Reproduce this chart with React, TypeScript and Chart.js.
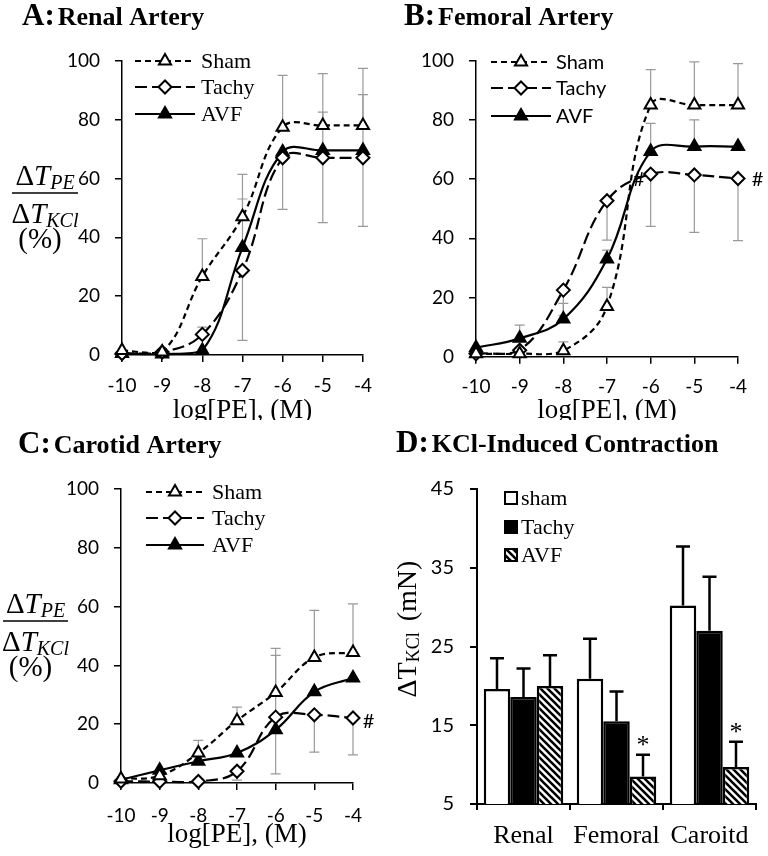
import React, { useEffect, useRef } from 'react';
import { Chart, registerables } from 'chart.js';
Chart.register(...registerables);

// ---------- data ----------
const doses = [-10, -9, -8, -7, -6, -5, -4];

// A: Renal artery
const renalSham = [1.5, 1, 26.7, 47, 77.4, 78, 78];
const renalShamPlus = [0, 0, 12.8, 14.4, 17.6, 17.6, 19.4];
const renalShamMinus = [0, 0, 0, 0, 0, 0, 0];
const renalTachy = [0.5, 1, 7, 28.7, 67, 67, 67];
const renalTachyPlus = [0, 0, 2.5, 0, 0, 0, 0];
const renalTachyMinus = [0, 0, 0, 23.7, 17.5, 22, 23.3];
const renalAvf = [0.5, 0.3, 1.5, 36.5, 69, 69.5, 69.5];
const renalAvfPlus = [0, 0, 0, 16.5, 0, 13, 19];
const renalAvfMinus = [0, 0, 0, 0, 0, 0, 0];

// B: Femoral artery
const femoralSham = [1, 1, 2, 17, 85, 85, 85];
const femoralShamPlus = [0, 0, 3, 6.4, 12, 14.6, 14];
const femoralShamMinus = [0, 0, 0, 0, 0, 0, 0];
const femoralTachy = [1, 2.2, 22.5, 52.7, 61.7, 61.4, 60.2];
const femoralTachyPlus = [0, 0, 0, 0, 0, 0, 0];
const femoralTachyMinus = [0, 0, 8.5, 13.3, 17.7, 19.4, 21];
const femoralAvf = [3, 6.2, 12.7, 33, 69.3, 71, 71];
const femoralAvfPlus = [0, 4.5, 5.3, 3, 9.5, 9, 0];
const femoralAvfMinus = [0, 0, 0, 0, 0, 0, 0];
const femoralNotes = [
  { x: -6.27, y: 60, text: '#' },
  { x: -3.55, y: 60, text: '#' },
];

// C: Carotid artery
const carotidSham = [1.4, 2.5, 10.2, 21.2, 30.8, 42.7, 44.4];
const carotidShamPlus = [0, 0, 4.3, 4.6, 15, 16, 16.5];
const carotidShamMinus = [0, 0, 0, 0, 0, 0, 0];
const carotidTachy = [0.6, 0.5, 0.5, 4, 22.4, 23.2, 22.1];
const carotidTachyPlus = [0, 0, 0, 0, 21, 0, 0];
const carotidTachyMinus = [0, 0, 0, 3, 0, 12.7, 12.5];
const carotidAvf = [1.1, 4.3, 7.4, 10.2, 18.1, 31, 35.7];
const carotidAvfPlus = [0, 0, 0, 0, 0, 0, 0];
const carotidAvfMinus = [0, 0, 0, 0, 15, 0, 0];
const carotidNotes = [{ x: -3.6, y: 21, text: '#' }];

// D: KCl-induced contraction
const vessels = ['Renal', 'Femoral', 'Caroitd'];
const kclSham = [19.6, 20.9, 30.2];
const kclShamErr = [3.9, 5.1, 7.5];
const kclTachy = [18.6, 15.5, 27.0];
const kclTachyErr = [3.6, 3.8, 6.85];
const kclAvf = [20.0, 8.5, 9.7];
const kclAvfErr = [3.9, 2.75, 3.2];
const kclAvfMarks = ['', '*', '*'];

// ---------- styles ----------
const SERIF = '"Liberation Serif", "Times New Roman", serif';
const SANS = 'Lato, "Open Sans", sans-serif';

type Kind = 'sham' | 'tachy' | 'avf';
interface SeriesDef { label: string; kind: Kind; values: number[]; plus: number[]; minus: number[]; }
interface Note { x: number; y: number; text: string; }

const STYLE: Record<Kind, { dash: number[]; point: 'triangle' | 'rectRot'; fill: string; radius: number }> = {
  sham: { dash: [6, 4], point: 'triangle', fill: '#fff', radius: 7 },
  tachy: { dash: [12, 5], point: 'rectRot', fill: '#fff', radius: 6.5 },
  avf: { dash: [], point: 'triangle', fill: '#000', radius: 7 },
};

function drawMarker(ctx: CanvasRenderingContext2D, kind: Kind, x: number, y: number) {
  const st = STYLE[kind];
  const r = st.radius;
  ctx.beginPath();
  if (st.point === 'triangle') {
    for (let k = 0; k < 3; k++) {
      const a = (k * 2 * Math.PI) / 3;
      const px = x + Math.sin(a) * r;
      const py = y - Math.cos(a) * r;
      if (k === 0) ctx.moveTo(px, py); else ctx.lineTo(px, py);
    }
  } else {
    ctx.moveTo(x - r, y); ctx.lineTo(x, y - r); ctx.lineTo(x + r, y); ctx.lineTo(x, y + r);
  }
  ctx.closePath();
  ctx.fillStyle = st.fill;
  ctx.fill();
  ctx.setLineDash([]);
  ctx.lineWidth = 2;
  ctx.strokeStyle = '#000';
  ctx.stroke();
}

function drawTitle(ctx: CanvasRenderingContext2D, letter: string, words: string, x: number, base: number) {
  ctx.save();
  ctx.fillStyle = '#000';
  ctx.textBaseline = 'alphabetic';
  ctx.textAlign = 'left';
  ctx.font = `bold 31px ${SERIF}`;
  ctx.fillText(letter, x, base);
  const w = ctx.measureText(letter).width;
  ctx.font = `bold 26px ${SERIF}`;
  ctx.fillText(words, x + w + 3, base);
  ctx.restore();
}

function drawDeltaT(ctx: CanvasRenderingContext2D, sub: string, cx: number, base: number) {
  const big = `29px ${SERIF}`;
  const bigI = `italic 29px ${SERIF}`;
  const small = `italic 20px ${SERIF}`;
  ctx.font = big; const w1 = ctx.measureText('\u0394').width;
  ctx.font = bigI; const w2 = ctx.measureText('T').width;
  ctx.font = small; const w3 = ctx.measureText(sub).width;
  let x = cx - (w1 + w2 + w3) / 2;
  ctx.font = big; ctx.fillText('\u0394', x, base); x += w1;
  ctx.font = bigI; ctx.fillText('T', x, base); x += w2;
  ctx.font = small; ctx.fillText(sub, x, base + 4);
}

interface LinePanelOpts {
  width: number; height: number;
  area: { left: number; right: number; top: number; bottom: number };
  series: SeriesDef[];
  notes: Note[];
  letter: string; words: string; titleX: number; titleBase: number;
  legend: { x0: number; len: number; rows: number[]; font: string; textX: number };
  frac: { cx: number; barY: number; w: number } | null;
  xTitleBase: number;
  xTickPad: number;
}

function lineConfig(o: LinePanelOpts): any {
  const datasets = o.series.map((s) => {
    const st = STYLE[s.kind];
    return {
      label: s.label,
      data: doses.map((d, i) => ({ x: d, y: s.values[i] })),
      borderColor: '#000',
      borderWidth: 2.2,
      borderDash: st.dash,
      pointStyle: st.point,
      pointRadius: st.radius,
      pointBorderWidth: 2,
      pointBackgroundColor: st.fill,
      pointBorderColor: '#000',
      tension: 0.4,
      fill: false,
      clip: false,
    };
  });
  const decor = {
    id: 'decor',
    beforeDatasetsDraw(chart: any) {
      const { ctx } = chart;
      const xs = chart.scales.x, ys = chart.scales.y;
      ctx.save();
      ctx.strokeStyle = '#999999';
      ctx.lineWidth = 1.2;
      o.series.forEach((s) => {
        doses.forEach((d, i) => {
          const px = xs.getPixelForValue(d);
          const v = s.values[i];
          const parts: [number, number][] = [[s.plus[i], 1], [s.minus[i], -1]];
          parts.forEach(([e, sg]) => {
            if (!e) return;
            const p0 = ys.getPixelForValue(v);
            const p1 = ys.getPixelForValue(v + sg * e);
            ctx.beginPath();
            ctx.moveTo(px, p0); ctx.lineTo(px, p1);
            ctx.moveTo(px - 5, p1); ctx.lineTo(px + 5, p1);
            ctx.stroke();
          });
        });
      });
      ctx.restore();
    },
    afterDraw(chart: any) {
      const { ctx } = chart;
      const xs = chart.scales.x, ys = chart.scales.y;
      drawTitle(ctx, o.letter, o.words, o.titleX, o.titleBase);
      ctx.save();
      // legend
      o.series.forEach((s, k) => {
        const st = STYLE[s.kind];
        const y = o.legend.rows[k];
        ctx.beginPath();
        ctx.setLineDash(st.dash);
        ctx.lineWidth = 2.2;
        ctx.strokeStyle = '#000';
        ctx.moveTo(o.legend.x0, y);
        ctx.lineTo(o.legend.x0 + o.legend.len, y);
        ctx.stroke();
        drawMarker(ctx, s.kind, o.legend.x0 + o.legend.len / 2, y);
        ctx.fillStyle = '#000';
        ctx.font = o.legend.font;
        ctx.textBaseline = 'middle';
        ctx.textAlign = 'left';
        ctx.fillText(s.label, o.legend.textX, y + 1);
      });
      // y label fraction
      ctx.fillStyle = '#000';
      ctx.strokeStyle = '#000';
      ctx.textBaseline = 'alphabetic';
      ctx.textAlign = 'left';
      if (o.frac) {
        drawDeltaT(ctx, 'PE', o.frac.cx, o.frac.barY - 8);
        ctx.beginPath();
        ctx.setLineDash([]);
        ctx.lineWidth = 1.5;
        ctx.moveTo(o.frac.cx - o.frac.w / 2, o.frac.barY);
        ctx.lineTo(o.frac.cx + o.frac.w / 2, o.frac.barY);
        ctx.stroke();
        drawDeltaT(ctx, 'KCl', o.frac.cx, o.frac.barY + 30);
        ctx.font = `29px ${SERIF}`;
        ctx.textAlign = 'center';
        ctx.fillText('(%)', o.frac.cx - 5, o.frac.barY + 55);
      }
      // x title
      ctx.font = `27px ${SERIF}`;
      ctx.textAlign = 'center';
      ctx.textBaseline = 'alphabetic';
      ctx.fillText('log[PE], (M)', (chart.chartArea.left + chart.chartArea.right) / 2, o.xTitleBase);
      // notes
      ctx.font = `20px ${SANS}`;
      ctx.textBaseline = 'middle';
      o.notes.forEach((n) => {
        ctx.fillText(n.text, xs.getPixelForValue(n.x), ys.getPixelForValue(n.y));
      });
      ctx.restore();
    },
  };
  const axisGrid = { drawOnChartArea: false, drawTicks: true, tickLength: 7, color: '#000', lineWidth: 1.5 };
  return {
    type: 'line',
    data: { datasets },
    options: {
      animation: false,
      responsive: false,
      maintainAspectRatio: false,
      events: [],
      layout: { padding: { top: o.area.top, right: o.width - o.area.right, left: 0, bottom: 0 } },
      plugins: { legend: { display: false }, tooltip: { enabled: false }, title: { display: false } },
      scales: {
        x: {
          type: 'linear', min: -10, max: -4,
          ticks: { stepSize: 1, font: { family: SANS, size: 19 }, color: '#000', padding: o.xTickPad, maxRotation: 0 },
          grid: axisGrid,
          border: { display: true, color: '#000', width: 1.5 },
          afterFit(s: any) { s.height = o.height - o.area.bottom; },
        },
        y: {
          type: 'linear', min: 0, max: 100,
          ticks: { stepSize: 20, font: { family: SANS, size: 19 }, color: '#000', padding: 15 },
          grid: axisGrid,
          border: { display: true, color: '#000', width: 1.5 },
          afterFit(s: any) { s.width = o.area.left; },
        },
      },
    },
    plugins: [decor],
  };
}

function makeHatch(): CanvasPattern | string {
  const c = document.createElement('canvas');
  const n = 7;
  c.width = n; c.height = n;
  const g = c.getContext('2d');
  if (!g) return '#888';
  g.fillStyle = '#fff';
  g.fillRect(0, 0, n, n);
  g.strokeStyle = '#000';
  g.lineWidth = 2.6;
  g.beginPath();
  for (const k of [-n, 0, n]) { g.moveTo(k - 1, -1); g.lineTo(k + n + 1, n + 1); }
  g.stroke();
  return g.createPattern(c, 'repeat') || '#888';
}

function barConfig(): any {
  const W = 384, H = 436;
  const area = { left: 93, right: 372, top: 69, bottom: 384 };
  const hatch = makeHatch();
  const errs = [kclShamErr, kclTachyErr, kclAvfErr];
  const fills: any[] = ['#fff', '#000', hatch];
  const base = { borderColor: '#000', borderWidth: 2.5, borderSkipped: false, categoryPercentage: 0.855, barPercentage: 1 };
  const decor = {
    id: 'decorBar',
    afterDatasetsDraw(chart: any) {
      const { ctx } = chart;
      const ys = chart.scales.y;
      ctx.save();
      ctx.strokeStyle = '#000';
      ctx.lineWidth = 2.5;
      chart.data.datasets.forEach((ds: any, di: number) => {
        const meta = chart.getDatasetMeta(di);
        meta.data.forEach((bar: any, i: number) => {
          const top = ys.getPixelForValue(ds.data[i]);
          const e = ys.getPixelForValue(ds.data[i] + errs[di][i]);
          ctx.beginPath();
          ctx.moveTo(bar.x, top); ctx.lineTo(bar.x, e);
          ctx.moveTo(bar.x - 7, e); ctx.lineTo(bar.x + 7, e);
          ctx.stroke();
          if (di === 2 && kclAvfMarks[i]) {
            ctx.fillStyle = '#000';
            ctx.font = `26px ${SERIF}`;
            ctx.textAlign = 'center';
            ctx.textBaseline = 'alphabetic';
            ctx.fillText(kclAvfMarks[i], bar.x, e - 2);
          }
        });
      });
      ctx.restore();
    },
    afterDraw(chart: any) {
      const { ctx } = chart;
      drawTitle(ctx, 'D:', 'KCl-Induced Contraction', 12, 32);
      ctx.save();
      // legend
      const rows = [78, 107, 135];
      chart.data.datasets.forEach((ds: any, di: number) => {
        const y = rows[di];
        ctx.fillStyle = fills[di];
        ctx.fillRect(120, y - 7, 14, 14);
        ctx.lineWidth = 2;
        ctx.strokeStyle = '#000';
        ctx.strokeRect(121, y - 6, 12, 12);
        ctx.fillStyle = '#000';
        ctx.font = `22px ${SERIF}`;
        ctx.textAlign = 'left';
        ctx.textBaseline = 'middle';
        ctx.fillText(ds.label, 137, y + 1);
      });
      ctx.restore();
      // y title (rotated)
      ctx.save();
      ctx.translate(32, 211);
      ctx.rotate(-Math.PI / 2);
      ctx.fillStyle = '#000';
      ctx.textBaseline = 'alphabetic';
      ctx.textAlign = 'left';
      const f1 = `28px ${SERIF}`, f2 = `18px ${SERIF}`;
      ctx.font = f1; const a = ctx.measureText('\u0394T').width;
      ctx.font = f2; const b = ctx.measureText('KCl').width;
      ctx.font = f1; const c = ctx.measureText(' (mN)').width;
      let x = -(a + b + c) / 2;
      ctx.font = f1; ctx.fillText('\u0394T', x, 0); x += a;
      ctx.font = f2; ctx.fillText('KCl', x, 3); x += b;
      ctx.font = f1; ctx.fillText(' (mN)', x + 4, 0);
      ctx.restore();
    },
  };
  const grid = { drawOnChartArea: false, drawTicks: true, color: '#000', lineWidth: 2 };
  return {
    type: 'bar',
    data: {
      labels: vessels,
      datasets: [
        { label: 'sham', data: kclSham, backgroundColor: '#fff', ...base },
        { label: 'Tachy', data: kclTachy, backgroundColor: '#000', ...base },
        { label: 'AVF', data: kclAvf, backgroundColor: hatch, ...base },
      ],
    },
    options: {
      animation: false,
      responsive: false,
      maintainAspectRatio: false,
      events: [],
      layout: { padding: { top: area.top, right: W - area.right, left: 0, bottom: 0 } },
      plugins: { legend: { display: false }, tooltip: { enabled: false } },
      scales: {
        x: {
          offset: true,
          ticks: { font: { family: SERIF, size: 26 }, color: '#000', padding: 11, maxRotation: 0, autoSkip: false },
          grid: { ...grid, offset: true, tickLength: 6 },
          border: { display: true, color: '#000', width: 2 },
          afterFit(s: any) { s.height = H - area.bottom; },
        },
        y: {
          min: 5, max: 45,
          ticks: { stepSize: 10, font: { family: SANS, size: 20 }, color: '#000', padding: 16 },
          grid: { ...grid, tickLength: 7 },
          border: { display: true, color: '#000', width: 2 },
          afterFit(s: any) { s.width = area.left; },
        },
      },
    },
    plugins: [decor],
  };
}

function Panel({ left, top, width, height, make }: { left: number; top: number; width: number; height: number; make: () => any }) {
  const ref = useRef<HTMLCanvasElement>(null);
  useEffect(() => {
    if (!ref.current) return;
    const chart = new Chart(ref.current, make());
    return () => chart.destroy();
  }, []);
  return (
    <canvas
      ref={ref}
      width={width}
      height={height}
      style={{ position: 'absolute', left, top, width, height, display: 'block' }}
    />
  );
}

const renalSeries: SeriesDef[] = [
  { label: 'Sham', kind: 'sham', values: renalSham, plus: renalShamPlus, minus: renalShamMinus },
  { label: 'Tachy', kind: 'tachy', values: renalTachy, plus: renalTachyPlus, minus: renalTachyMinus },
  { label: 'AVF', kind: 'avf', values: renalAvf, plus: renalAvfPlus, minus: renalAvfMinus },
];
const femoralSeries: SeriesDef[] = [
  { label: 'Sham', kind: 'sham', values: femoralSham, plus: femoralShamPlus, minus: femoralShamMinus },
  { label: 'Tachy', kind: 'tachy', values: femoralTachy, plus: femoralTachyPlus, minus: femoralTachyMinus },
  { label: 'AVF', kind: 'avf', values: femoralAvf, plus: femoralAvfPlus, minus: femoralAvfMinus },
];
const carotidSeries: SeriesDef[] = [
  { label: 'Sham', kind: 'sham', values: carotidSham, plus: carotidShamPlus, minus: carotidShamMinus },
  { label: 'Tachy', kind: 'tachy', values: carotidTachy, plus: carotidTachyPlus, minus: carotidTachyMinus },
  { label: 'AVF', kind: 'avf', values: carotidAvf, plus: carotidAvfPlus, minus: carotidAvfMinus },
];

export default function App() {
  useEffect(() => {
    document.body.style.margin = '0';
    document.body.style.background = '#fff';
  }, []);
  Chart.defaults.font.family = SANS;
  Chart.defaults.color = '#000';

  const makeA = () => lineConfig({
    width: 384, height: 420,
    area: { left: 122, right: 368, top: 60.7, bottom: 355 },
    series: renalSeries, notes: [],
    letter: 'A:', words: 'Renal Artery', titleX: 22, titleBase: 25,
    legend: { x0: 135, len: 60, rows: [61, 87, 114], font: `22px ${SERIF}`, textX: 201 },
    frac: { cx: 45, barY: 193, w: 66 },
    xTitleBase: 418, xTickPad: 12,
  });
  const makeB = () => lineConfig({
    width: 384, height: 420,
    area: { left: 92, right: 354, top: 60.7, bottom: 356.7 },
    series: femoralSeries, notes: femoralNotes,
    letter: 'B:', words: 'Femoral Artery', titleX: 20, titleBase: 25,
    legend: { x0: 107, len: 60, rows: [62, 88, 116], font: `20px ${SANS}`, textX: 172 },
    frac: null,
    xTitleBase: 418, xTickPad: 12,
  });
  const makeC = () => lineConfig({
    width: 384, height: 436,
    area: { left: 121, right: 353, top: 69, bottom: 363 },
    series: carotidSeries, notes: carotidNotes,
    letter: 'C:', words: 'Carotid Artery', titleX: 18, titleBase: 33,
    legend: { x0: 146, len: 58, rows: [72, 98, 125], font: `22px ${SERIF}`, textX: 212 },
    frac: { cx: 35.5, barY: 201, w: 65 },
    xTitleBase: 422, xTickPad: 14,
  });

  return (
    <div style={{ position: 'relative', width: 768, height: 856, background: '#fff', overflow: 'hidden' }}>
      <Panel left={0} top={0} width={384} height={420} make={makeA} />
      <Panel left={384} top={0} width={384} height={420} make={makeB} />
      <Panel left={0} top={420} width={384} height={436} make={makeC} />
      <Panel left={384} top={420} width={384} height={436} make={barConfig} />
    </div>
  );
}
